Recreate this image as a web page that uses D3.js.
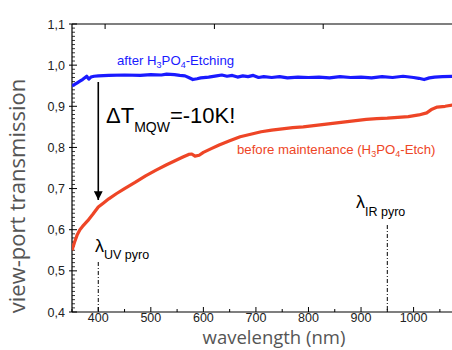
<!DOCTYPE html>
<html><head><meta charset="utf-8">
<script src="https://cdn.jsdelivr.net/npm/d3@7"></script>
<style>body{margin:0;background:#fff}svg{display:block}</style>
</head><body>
<svg id="c" width="452" height="350"></svg>
<script>
// ---- data ----
const blueWl  = [350,355,360,365,370,375,378,382,386,392,400,420,450,480,500,520,530,545,555,565,572,580,588,595,610,625,635,645,655,665,675,685,695,705,715,730,745,760,780,800,820,840,860,880,900,920,940,960,980,1000,1010,1020,1030,1040,1055,1075];
const blueT   = [0.950,0.953,0.957,0.961,0.965,0.970,0.973,0.966,0.971,0.973,0.974,0.975,0.976,0.975,0.977,0.976,0.978,0.977,0.975,0.974,0.970,0.965,0.967,0.969,0.971,0.974,0.976,0.973,0.975,0.971,0.974,0.972,0.975,0.970,0.972,0.970,0.972,0.969,0.971,0.970,0.971,0.969,0.972,0.970,0.971,0.969,0.972,0.970,0.973,0.970,0.968,0.965,0.969,0.971,0.972,0.973];
const redWl   = [350,355,360,365,370,380,390,400,410,420,435,450,470,490,510,530,545,560,572,578,584,592,600,615,630,650,670,690,710,730,750,770,790,810,830,850,870,890,910,930,950,970,990,1010,1025,1035,1045,1060,1075];
const redT    = [0.550,0.570,0.588,0.600,0.608,0.622,0.638,0.655,0.665,0.675,0.688,0.700,0.715,0.731,0.745,0.758,0.767,0.776,0.783,0.784,0.779,0.781,0.788,0.797,0.806,0.816,0.826,0.832,0.838,0.842,0.845,0.848,0.850,0.853,0.856,0.859,0.862,0.865,0.868,0.870,0.871,0.873,0.875,0.879,0.884,0.893,0.898,0.900,0.903];
const xTicks = [400,500,600,700,800,900,1000];
const yTicks = [0.4,0.5,0.6,0.7,0.8,0.9,1.0,1.1];
const topTicks = [413,621,828];
const uvWl = 400, irWl = 950;

// ---- layout ----
const L=72, R=453, T=24, B=312;
const x = d3.scaleLinear().domain([350,1075]).range([L,R]);
const y = d3.scaleLinear().domain([0.4,1.1]).range([B,T]);
const svg = d3.select("#c");
const fmt = d=>d3.format(".1f")(d).replace(".",",");

svg.append("clipPath").attr("id","clip").append("rect")
  .attr("x",L).attr("y",T).attr("width",R-L).attr("height",B-T);

// frame
svg.append("line").attr("x1",L).attr("x2",452).attr("y1",T).attr("y2",T).attr("stroke","#000").attr("stroke-width",1.2);
svg.append("line").attr("x1",L).attr("x2",452).attr("y1",B).attr("y2",B).attr("stroke","#000").attr("stroke-width",1.2);
svg.append("line").attr("x1",L).attr("x2",L).attr("y1",T).attr("y2",B).attr("stroke","#000").attr("stroke-width",1.2);

// x ticks (inside)
const xMinor = d3.range(350,1076,50).filter(v=>!xTicks.includes(v));
svg.selectAll(".xt").data(xTicks).join("line").attr("x1",d=>x(d)).attr("x2",d=>x(d))
  .attr("y1",B).attr("y2",B-5).attr("stroke","#000").attr("stroke-width",1);
svg.selectAll(".xm").data(xMinor).join("line").attr("x1",d=>x(d)).attr("x2",d=>x(d))
  .attr("y1",B).attr("y2",B-3).attr("stroke","#000").attr("stroke-width",1);
svg.selectAll(".xl").data(xTicks).join("text").attr("x",d=>x(d)).attr("y",321.5)
  .attr("text-anchor","middle").attr("font-family","Liberation Sans, Arial").attr("font-size",12.5)
  .attr("fill","#222").text(d=>d);
// top ticks
svg.selectAll(".tt").data(topTicks).join("line").attr("x1",d=>x(d)).attr("x2",d=>x(d))
  .attr("y1",T).attr("y2",T+5).attr("stroke","#000").attr("stroke-width",1);

// y ticks
const yMinor = d3.range(40,111,1).map(v=>v/100).filter(v=>Math.round(v*100)%10!==0);
svg.selectAll(".yt").data(yTicks).join("line").attr("x1",L-3).attr("x2",L+5)
  .attr("y1",d=>y(d)).attr("y2",d=>y(d)).attr("stroke","#000").attr("stroke-width",1);
svg.selectAll(".ym").data(yMinor).join("line").attr("x1",L).attr("x2",L+3)
  .attr("y1",d=>y(d)).attr("y2",d=>y(d)).attr("stroke","#000").attr("stroke-width",0.8);
svg.selectAll(".yl").data(yTicks).join("text").attr("x",65).attr("y",d=>y(d)+4.5)
  .attr("text-anchor","end").attr("font-family","Liberation Sans, Arial").attr("font-size",12.5)
  .attr("fill","#222").text(fmt);

// axis titles
svg.append("text").attr("x",274).attr("y",344).attr("text-anchor","middle")
  .attr("font-family","Open Sans").attr("font-size",18.5).attr("fill","#555").text("wavelength (nm)");
svg.append("text").attr("transform","translate(25,196) rotate(-90)").attr("text-anchor","middle")
  .attr("font-family","Open Sans").attr("font-size",22).attr("fill","#555").text("view-port transmission");

// pyro lines
[[uvWl,262],[irWl,225]].forEach(([w,top])=>{
  svg.append("line").attr("x1",x(w)).attr("x2",x(w)).attr("y1",top).attr("y2",B)
    .attr("stroke","#000").attr("stroke-width",1).attr("stroke-dasharray","4,2,1,2");
});

// curves
const line = d3.line().x(d=>x(d[0])).y(d=>y(d[1]));
const g = svg.append("g").attr("clip-path","url(#clip)");
g.append("path").attr("d",line(d3.zip(redWl,redT))).attr("fill","none")
  .attr("stroke","#ee4526").attr("stroke-width",3.2).attr("stroke-linejoin","round");
g.append("path").attr("d",line(d3.zip(blueWl,blueT))).attr("fill","none")
  .attr("stroke","#1a1aff").attr("stroke-width",3.2).attr("stroke-linejoin","round");

// arrow
svg.append("defs").append("marker").attr("id","ah").attr("viewBox","0 0 10 10")
  .attr("refX",10).attr("refY",5).attr("markerWidth",5.5).attr("markerHeight",5.5)
  .attr("markerUnits","strokeWidth").attr("orient","auto")
  .append("path").attr("d","M0,0 L10,5 L0,10 Z").attr("fill","#000");
svg.append("line").attr("x1",x(uvWl)).attr("x2",x(uvWl)).attr("y1",82).attr("y2",200)
  .attr("stroke","#000").attr("stroke-width",1.6).attr("marker-end","url(#ah)");

// annotations
const f="Liberation Sans, Arial";
const t1 = svg.append("text").attr("x",117).attr("y",65).attr("font-family",f).attr("font-size",13.2).attr("fill","#1a1aff");
t1.append("tspan").text("after H");
t1.append("tspan").attr("dy",3).attr("font-size",9).text("3");
t1.append("tspan").attr("dy",-3).text("PO");
t1.append("tspan").attr("dy",3).attr("font-size",9).text("4");
t1.append("tspan").attr("dy",-3).text("-Etching");

const t2 = svg.append("text").attr("x",237).attr("y",154).attr("font-family",f).attr("font-size",13.2).attr("fill","#ee4526");
t2.append("tspan").text("before maintenance (H");
t2.append("tspan").attr("dy",3).attr("font-size",9).text("3");
t2.append("tspan").attr("dy",-3).text("PO");
t2.append("tspan").attr("dy",3).attr("font-size",9).text("4");
t2.append("tspan").attr("dy",-3).text("-Etch)");

const t3 = svg.append("text").attr("x",106).attr("y",123).attr("font-family",f).attr("font-size",22).attr("fill","#000");
t3.append("tspan").text("ΔT");
t3.append("tspan").attr("dy",9).attr("font-size",14).text("MQW");
t3.append("tspan").attr("dy",-9).text("=-10K!");

const t4 = svg.append("text").attr("x",95).attr("y",252).attr("font-family",f).attr("font-size",18).attr("fill","#000");
t4.append("tspan").text("λ");
t4.append("tspan").attr("dy",7).attr("font-size",12.5).text("UV pyro");

const t5 = svg.append("text").attr("x",356).attr("y",208).attr("font-family",f).attr("font-size",18).attr("fill","#000");
t5.append("tspan").text("λ");
t5.append("tspan").attr("dy",8).attr("font-size",12.5).text("IR pyro");
</script>
</body></html>
